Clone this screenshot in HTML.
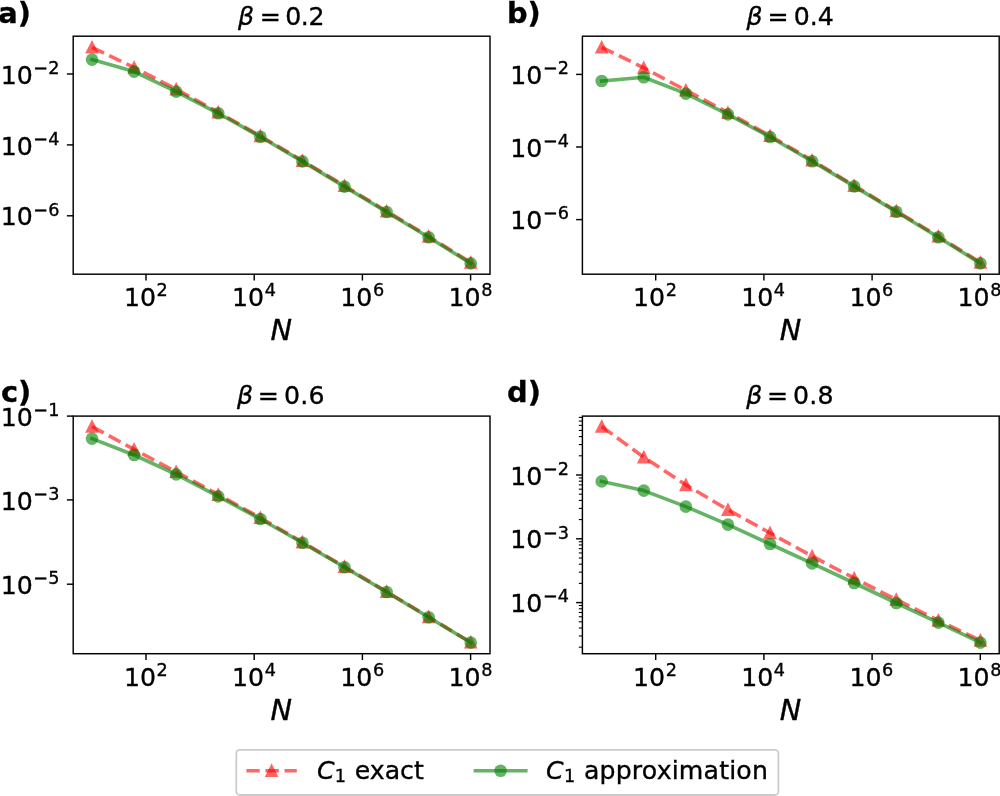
<!DOCTYPE html>
<html lang="en"><head><meta charset="utf-8"><title>C1 exact vs approximation</title>
<style>
html,body{margin:0;padding:0;background:#fff;}
body{width:1000px;height:796px;overflow:hidden;}
svg{display:block;font-family:"DejaVu Sans","Liberation Sans",sans-serif;fill:#000;}
text{stroke:#000;stroke-width:0.35px;}
</style></head><body>
<svg width="1000" height="796" viewBox="0 0 1000 796">
<rect width="1000" height="796" fill="#fff"/>
<g id="panel-a">
<clipPath id="clip-a"><rect x="73.2" y="36.2" width="416.8" height="238.0"/></clipPath>
<g clip-path="url(#clip-a)">
<path d="M92.00 47.30L134.08 67.50L176.16 89.20L218.24 112.20L260.32 136.00L302.40 160.70L344.48 185.80L386.56 211.20L428.64 236.40L470.72 262.50" fill="none" stroke="#ff0000" stroke-opacity="0.6" stroke-width="3.6" stroke-dasharray="13.32 5.76" stroke-linejoin="round"/>
<path d="M92.00 41.90L86.60 52.70L97.40 52.70Z" fill="#ff0000" stroke="#ff0000" stroke-width="1.8" stroke-linejoin="miter" opacity="0.6"/>
<path d="M134.08 62.10L128.68 72.90L139.48 72.90Z" fill="#ff0000" stroke="#ff0000" stroke-width="1.8" stroke-linejoin="miter" opacity="0.6"/>
<path d="M176.16 83.80L170.76 94.60L181.56 94.60Z" fill="#ff0000" stroke="#ff0000" stroke-width="1.8" stroke-linejoin="miter" opacity="0.6"/>
<path d="M218.24 106.80L212.84 117.60L223.64 117.60Z" fill="#ff0000" stroke="#ff0000" stroke-width="1.8" stroke-linejoin="miter" opacity="0.6"/>
<path d="M260.32 130.60L254.92 141.40L265.72 141.40Z" fill="#ff0000" stroke="#ff0000" stroke-width="1.8" stroke-linejoin="miter" opacity="0.6"/>
<path d="M302.40 155.30L297.00 166.10L307.80 166.10Z" fill="#ff0000" stroke="#ff0000" stroke-width="1.8" stroke-linejoin="miter" opacity="0.6"/>
<path d="M344.48 180.40L339.08 191.20L349.88 191.20Z" fill="#ff0000" stroke="#ff0000" stroke-width="1.8" stroke-linejoin="miter" opacity="0.6"/>
<path d="M386.56 205.80L381.16 216.60L391.96 216.60Z" fill="#ff0000" stroke="#ff0000" stroke-width="1.8" stroke-linejoin="miter" opacity="0.6"/>
<path d="M428.64 231.00L423.24 241.80L434.04 241.80Z" fill="#ff0000" stroke="#ff0000" stroke-width="1.8" stroke-linejoin="miter" opacity="0.6"/>
<path d="M470.72 257.10L465.32 267.90L476.12 267.90Z" fill="#ff0000" stroke="#ff0000" stroke-width="1.8" stroke-linejoin="miter" opacity="0.6"/>
<path d="M92.00 59.60L134.08 71.60L176.16 91.60L218.24 113.30L260.32 136.80L302.40 161.40L344.48 186.60L386.56 212.00L428.64 237.20L470.72 263.40" fill="none" stroke="#008000" stroke-opacity="0.6" stroke-width="3.6" stroke-linecap="square" stroke-linejoin="round"/>
<circle cx="92.00" cy="59.60" r="6.3" fill="#008000" opacity="0.6"/>
<circle cx="134.08" cy="71.60" r="6.3" fill="#008000" opacity="0.6"/>
<circle cx="176.16" cy="91.60" r="6.3" fill="#008000" opacity="0.6"/>
<circle cx="218.24" cy="113.30" r="6.3" fill="#008000" opacity="0.6"/>
<circle cx="260.32" cy="136.80" r="6.3" fill="#008000" opacity="0.6"/>
<circle cx="302.40" cy="161.40" r="6.3" fill="#008000" opacity="0.6"/>
<circle cx="344.48" cy="186.60" r="6.3" fill="#008000" opacity="0.6"/>
<circle cx="386.56" cy="212.00" r="6.3" fill="#008000" opacity="0.6"/>
<circle cx="428.64" cy="237.20" r="6.3" fill="#008000" opacity="0.6"/>
<circle cx="470.72" cy="263.40" r="6.3" fill="#008000" opacity="0.6"/>
</g>
<path d="M146.00 274.20v6.3" stroke="#000" stroke-width="1.44"/>
<text x="123.90" y="306.20" font-size="25.2" text-anchor="start">10<tspan dy="-9.83" dx="0.6" font-size="17.64">2</tspan></text>
<path d="M254.20 274.20v6.3" stroke="#000" stroke-width="1.44"/>
<text x="232.10" y="306.20" font-size="25.2" text-anchor="start">10<tspan dy="-9.83" dx="0.6" font-size="17.64">4</tspan></text>
<path d="M362.40 274.20v6.3" stroke="#000" stroke-width="1.44"/>
<text x="340.30" y="306.20" font-size="25.2" text-anchor="start">10<tspan dy="-9.83" dx="0.6" font-size="17.64">6</tspan></text>
<path d="M470.60 274.20v6.3" stroke="#000" stroke-width="1.44"/>
<text x="448.50" y="306.20" font-size="25.2" text-anchor="start">10<tspan dy="-9.83" dx="0.6" font-size="17.64">8</tspan></text>
<path d="M73.20 74.00h-6.3" stroke="#000" stroke-width="1.44"/>
<text x="0.70" y="83.60" font-size="25.2" text-anchor="start">10<tspan dy="-9.83" dx="0.6" font-size="17.64">−2</tspan></text>
<path d="M73.20 144.90h-6.3" stroke="#000" stroke-width="1.44"/>
<text x="0.70" y="154.50" font-size="25.2" text-anchor="start">10<tspan dy="-9.83" dx="0.6" font-size="17.64">−4</tspan></text>
<path d="M73.20 215.80h-6.3" stroke="#000" stroke-width="1.44"/>
<text x="0.70" y="225.40" font-size="25.2" text-anchor="start">10<tspan dy="-9.83" dx="0.6" font-size="17.64">−6</tspan></text>
<rect x="73.2" y="36.20" width="416.8" height="238.00" fill="none" stroke="#000" stroke-width="1.44"/>
<text x="238.10" y="25.20" font-size="25.2"><tspan font-style="italic">β</tspan><tspan dx="5.5">=</tspan><tspan dx="4.4" letter-spacing="-0.4">0.2</tspan></text>
<text x="281.20" y="340.40" font-size="28.8" font-style="italic" text-anchor="middle">N</text>
<text x="-1.70" y="22.90" font-size="28.8" font-weight="bold">a)</text>
</g>
<g id="panel-b">
<clipPath id="clip-b"><rect x="582.4" y="36.2" width="416.8" height="238.0"/></clipPath>
<g clip-path="url(#clip-b)">
<path d="M601.70 47.30L643.78 67.80L685.86 90.30L727.94 112.60L770.02 135.80L812.10 160.30L854.18 185.60L896.26 211.00L938.34 236.30L980.42 262.50" fill="none" stroke="#ff0000" stroke-opacity="0.6" stroke-width="3.6" stroke-dasharray="13.32 5.76" stroke-linejoin="round"/>
<path d="M601.70 41.90L596.30 52.70L607.10 52.70Z" fill="#ff0000" stroke="#ff0000" stroke-width="1.8" stroke-linejoin="miter" opacity="0.6"/>
<path d="M643.78 62.40L638.38 73.20L649.18 73.20Z" fill="#ff0000" stroke="#ff0000" stroke-width="1.8" stroke-linejoin="miter" opacity="0.6"/>
<path d="M685.86 84.90L680.46 95.70L691.26 95.70Z" fill="#ff0000" stroke="#ff0000" stroke-width="1.8" stroke-linejoin="miter" opacity="0.6"/>
<path d="M727.94 107.20L722.54 118.00L733.34 118.00Z" fill="#ff0000" stroke="#ff0000" stroke-width="1.8" stroke-linejoin="miter" opacity="0.6"/>
<path d="M770.02 130.40L764.62 141.20L775.42 141.20Z" fill="#ff0000" stroke="#ff0000" stroke-width="1.8" stroke-linejoin="miter" opacity="0.6"/>
<path d="M812.10 154.90L806.70 165.70L817.50 165.70Z" fill="#ff0000" stroke="#ff0000" stroke-width="1.8" stroke-linejoin="miter" opacity="0.6"/>
<path d="M854.18 180.20L848.78 191.00L859.58 191.00Z" fill="#ff0000" stroke="#ff0000" stroke-width="1.8" stroke-linejoin="miter" opacity="0.6"/>
<path d="M896.26 205.60L890.86 216.40L901.66 216.40Z" fill="#ff0000" stroke="#ff0000" stroke-width="1.8" stroke-linejoin="miter" opacity="0.6"/>
<path d="M938.34 230.90L932.94 241.70L943.74 241.70Z" fill="#ff0000" stroke="#ff0000" stroke-width="1.8" stroke-linejoin="miter" opacity="0.6"/>
<path d="M980.42 257.10L975.02 267.90L985.82 267.90Z" fill="#ff0000" stroke="#ff0000" stroke-width="1.8" stroke-linejoin="miter" opacity="0.6"/>
<path d="M601.70 81.00L643.78 77.30L685.86 93.60L727.94 114.40L770.02 137.00L812.10 161.20L854.18 186.40L896.26 211.80L938.34 237.20L980.42 263.40" fill="none" stroke="#008000" stroke-opacity="0.6" stroke-width="3.6" stroke-linecap="square" stroke-linejoin="round"/>
<circle cx="601.70" cy="81.00" r="6.3" fill="#008000" opacity="0.6"/>
<circle cx="643.78" cy="77.30" r="6.3" fill="#008000" opacity="0.6"/>
<circle cx="685.86" cy="93.60" r="6.3" fill="#008000" opacity="0.6"/>
<circle cx="727.94" cy="114.40" r="6.3" fill="#008000" opacity="0.6"/>
<circle cx="770.02" cy="137.00" r="6.3" fill="#008000" opacity="0.6"/>
<circle cx="812.10" cy="161.20" r="6.3" fill="#008000" opacity="0.6"/>
<circle cx="854.18" cy="186.40" r="6.3" fill="#008000" opacity="0.6"/>
<circle cx="896.26" cy="211.80" r="6.3" fill="#008000" opacity="0.6"/>
<circle cx="938.34" cy="237.20" r="6.3" fill="#008000" opacity="0.6"/>
<circle cx="980.42" cy="263.40" r="6.3" fill="#008000" opacity="0.6"/>
</g>
<path d="M655.70 274.20v6.3" stroke="#000" stroke-width="1.44"/>
<text x="633.00" y="306.20" font-size="25.2" text-anchor="start">10<tspan dy="-9.83" dx="0.6" font-size="17.64">2</tspan></text>
<path d="M763.90 274.20v6.3" stroke="#000" stroke-width="1.44"/>
<text x="741.20" y="306.20" font-size="25.2" text-anchor="start">10<tspan dy="-9.83" dx="0.6" font-size="17.64">4</tspan></text>
<path d="M872.10 274.20v6.3" stroke="#000" stroke-width="1.44"/>
<text x="849.40" y="306.20" font-size="25.2" text-anchor="start">10<tspan dy="-9.83" dx="0.6" font-size="17.64">6</tspan></text>
<path d="M980.30 274.20v6.3" stroke="#000" stroke-width="1.44"/>
<text x="957.60" y="306.20" font-size="25.2" text-anchor="start">10<tspan dy="-9.83" dx="0.6" font-size="17.64">8</tspan></text>
<path d="M582.40 74.40h-6.3" stroke="#000" stroke-width="1.44"/>
<text x="510.30" y="84.00" font-size="25.2" text-anchor="start">10<tspan dy="-9.83" dx="0.6" font-size="17.64">−2</tspan></text>
<path d="M582.40 147.00h-6.3" stroke="#000" stroke-width="1.44"/>
<text x="510.30" y="156.60" font-size="25.2" text-anchor="start">10<tspan dy="-9.83" dx="0.6" font-size="17.64">−4</tspan></text>
<path d="M582.40 219.60h-6.3" stroke="#000" stroke-width="1.44"/>
<text x="510.30" y="229.20" font-size="25.2" text-anchor="start">10<tspan dy="-9.83" dx="0.6" font-size="17.64">−6</tspan></text>
<rect x="582.4" y="36.20" width="416.8" height="238.00" fill="none" stroke="#000" stroke-width="1.44"/>
<text x="746.50" y="24.90" font-size="25.2"><tspan font-style="italic">β</tspan><tspan dx="4.9">=</tspan><tspan dx="5.1" letter-spacing="0">0.4</tspan></text>
<text x="790.40" y="340.40" font-size="28.8" font-style="italic" text-anchor="middle">N</text>
<text x="507.00" y="22.90" font-size="28.8" font-weight="bold">b)</text>
</g>
<g id="panel-c">
<clipPath id="clip-c"><rect x="73.2" y="415.7" width="416.8" height="238.0"/></clipPath>
<g clip-path="url(#clip-c)">
<path d="M92.00 426.50L134.08 449.40L176.16 471.80L218.24 494.60L260.32 517.80L302.40 542.10L344.48 566.70L386.56 591.70L428.64 616.90L470.72 642.30" fill="none" stroke="#ff0000" stroke-opacity="0.6" stroke-width="3.6" stroke-dasharray="13.32 5.76" stroke-linejoin="round"/>
<path d="M92.00 421.10L86.60 431.90L97.40 431.90Z" fill="#ff0000" stroke="#ff0000" stroke-width="1.8" stroke-linejoin="miter" opacity="0.6"/>
<path d="M134.08 444.00L128.68 454.80L139.48 454.80Z" fill="#ff0000" stroke="#ff0000" stroke-width="1.8" stroke-linejoin="miter" opacity="0.6"/>
<path d="M176.16 466.40L170.76 477.20L181.56 477.20Z" fill="#ff0000" stroke="#ff0000" stroke-width="1.8" stroke-linejoin="miter" opacity="0.6"/>
<path d="M218.24 489.20L212.84 500.00L223.64 500.00Z" fill="#ff0000" stroke="#ff0000" stroke-width="1.8" stroke-linejoin="miter" opacity="0.6"/>
<path d="M260.32 512.40L254.92 523.20L265.72 523.20Z" fill="#ff0000" stroke="#ff0000" stroke-width="1.8" stroke-linejoin="miter" opacity="0.6"/>
<path d="M302.40 536.70L297.00 547.50L307.80 547.50Z" fill="#ff0000" stroke="#ff0000" stroke-width="1.8" stroke-linejoin="miter" opacity="0.6"/>
<path d="M344.48 561.30L339.08 572.10L349.88 572.10Z" fill="#ff0000" stroke="#ff0000" stroke-width="1.8" stroke-linejoin="miter" opacity="0.6"/>
<path d="M386.56 586.30L381.16 597.10L391.96 597.10Z" fill="#ff0000" stroke="#ff0000" stroke-width="1.8" stroke-linejoin="miter" opacity="0.6"/>
<path d="M428.64 611.50L423.24 622.30L434.04 622.30Z" fill="#ff0000" stroke="#ff0000" stroke-width="1.8" stroke-linejoin="miter" opacity="0.6"/>
<path d="M470.72 636.90L465.32 647.70L476.12 647.70Z" fill="#ff0000" stroke="#ff0000" stroke-width="1.8" stroke-linejoin="miter" opacity="0.6"/>
<path d="M92.00 438.60L134.08 455.00L176.16 474.40L218.24 496.40L260.32 519.00L302.40 542.80L344.48 567.20L386.56 592.00L428.64 617.20L470.72 642.60" fill="none" stroke="#008000" stroke-opacity="0.6" stroke-width="3.6" stroke-linecap="square" stroke-linejoin="round"/>
<circle cx="92.00" cy="438.60" r="6.3" fill="#008000" opacity="0.6"/>
<circle cx="134.08" cy="455.00" r="6.3" fill="#008000" opacity="0.6"/>
<circle cx="176.16" cy="474.40" r="6.3" fill="#008000" opacity="0.6"/>
<circle cx="218.24" cy="496.40" r="6.3" fill="#008000" opacity="0.6"/>
<circle cx="260.32" cy="519.00" r="6.3" fill="#008000" opacity="0.6"/>
<circle cx="302.40" cy="542.80" r="6.3" fill="#008000" opacity="0.6"/>
<circle cx="344.48" cy="567.20" r="6.3" fill="#008000" opacity="0.6"/>
<circle cx="386.56" cy="592.00" r="6.3" fill="#008000" opacity="0.6"/>
<circle cx="428.64" cy="617.20" r="6.3" fill="#008000" opacity="0.6"/>
<circle cx="470.72" cy="642.60" r="6.3" fill="#008000" opacity="0.6"/>
</g>
<path d="M146.00 653.70v6.3" stroke="#000" stroke-width="1.44"/>
<text x="123.90" y="685.70" font-size="25.2" text-anchor="start">10<tspan dy="-9.83" dx="0.6" font-size="17.64">2</tspan></text>
<path d="M254.20 653.70v6.3" stroke="#000" stroke-width="1.44"/>
<text x="232.10" y="685.70" font-size="25.2" text-anchor="start">10<tspan dy="-9.83" dx="0.6" font-size="17.64">4</tspan></text>
<path d="M362.40 653.70v6.3" stroke="#000" stroke-width="1.44"/>
<text x="340.30" y="685.70" font-size="25.2" text-anchor="start">10<tspan dy="-9.83" dx="0.6" font-size="17.64">6</tspan></text>
<path d="M470.60 653.70v6.3" stroke="#000" stroke-width="1.44"/>
<text x="448.50" y="685.70" font-size="25.2" text-anchor="start">10<tspan dy="-9.83" dx="0.6" font-size="17.64">8</tspan></text>
<path d="M73.20 416.10h-6.3" stroke="#000" stroke-width="1.44"/>
<text x="0.70" y="425.70" font-size="25.2" text-anchor="start">10<tspan dy="-9.83" dx="0.6" font-size="17.64">−1</tspan></text>
<path d="M73.20 499.90h-6.3" stroke="#000" stroke-width="1.44"/>
<text x="0.70" y="509.50" font-size="25.2" text-anchor="start">10<tspan dy="-9.83" dx="0.6" font-size="17.64">−3</tspan></text>
<path d="M73.20 584.20h-6.3" stroke="#000" stroke-width="1.44"/>
<text x="0.70" y="593.80" font-size="25.2" text-anchor="start">10<tspan dy="-9.83" dx="0.6" font-size="17.64">−5</tspan></text>
<rect x="73.2" y="416.10" width="416.8" height="237.60" fill="none" stroke="#000" stroke-width="1.44"/>
<text x="237.10" y="404.00" font-size="25.2"><tspan font-style="italic">β</tspan><tspan dx="4.5">=</tspan><tspan dx="5.3" letter-spacing="0.15">0.6</tspan></text>
<text x="281.20" y="719.90" font-size="28.8" font-style="italic" text-anchor="middle">N</text>
<text x="0.90" y="402.40" font-size="28.8" font-weight="bold">c)</text>
</g>
<g id="panel-d">
<clipPath id="clip-d"><rect x="582.4" y="415.7" width="416.8" height="238.0"/></clipPath>
<g clip-path="url(#clip-d)">
<path d="M601.70 426.50L643.78 457.20L685.86 484.90L727.94 509.70L770.02 533.00L812.10 556.20L854.18 578.20L896.26 599.60L938.34 620.40L980.42 640.40" fill="none" stroke="#ff0000" stroke-opacity="0.6" stroke-width="3.6" stroke-dasharray="13.32 5.76" stroke-linejoin="round"/>
<path d="M601.70 421.10L596.30 431.90L607.10 431.90Z" fill="#ff0000" stroke="#ff0000" stroke-width="1.8" stroke-linejoin="miter" opacity="0.6"/>
<path d="M643.78 451.80L638.38 462.60L649.18 462.60Z" fill="#ff0000" stroke="#ff0000" stroke-width="1.8" stroke-linejoin="miter" opacity="0.6"/>
<path d="M685.86 479.50L680.46 490.30L691.26 490.30Z" fill="#ff0000" stroke="#ff0000" stroke-width="1.8" stroke-linejoin="miter" opacity="0.6"/>
<path d="M727.94 504.30L722.54 515.10L733.34 515.10Z" fill="#ff0000" stroke="#ff0000" stroke-width="1.8" stroke-linejoin="miter" opacity="0.6"/>
<path d="M770.02 527.60L764.62 538.40L775.42 538.40Z" fill="#ff0000" stroke="#ff0000" stroke-width="1.8" stroke-linejoin="miter" opacity="0.6"/>
<path d="M812.10 550.80L806.70 561.60L817.50 561.60Z" fill="#ff0000" stroke="#ff0000" stroke-width="1.8" stroke-linejoin="miter" opacity="0.6"/>
<path d="M854.18 572.80L848.78 583.60L859.58 583.60Z" fill="#ff0000" stroke="#ff0000" stroke-width="1.8" stroke-linejoin="miter" opacity="0.6"/>
<path d="M896.26 594.20L890.86 605.00L901.66 605.00Z" fill="#ff0000" stroke="#ff0000" stroke-width="1.8" stroke-linejoin="miter" opacity="0.6"/>
<path d="M938.34 615.00L932.94 625.80L943.74 625.80Z" fill="#ff0000" stroke="#ff0000" stroke-width="1.8" stroke-linejoin="miter" opacity="0.6"/>
<path d="M980.42 635.00L975.02 645.80L985.82 645.80Z" fill="#ff0000" stroke="#ff0000" stroke-width="1.8" stroke-linejoin="miter" opacity="0.6"/>
<path d="M601.70 481.40L643.78 490.60L685.86 506.60L727.94 524.60L770.02 544.00L812.10 563.40L854.18 583.00L896.26 603.00L938.34 622.60L980.42 642.60" fill="none" stroke="#008000" stroke-opacity="0.6" stroke-width="3.6" stroke-linecap="square" stroke-linejoin="round"/>
<circle cx="601.70" cy="481.40" r="6.3" fill="#008000" opacity="0.6"/>
<circle cx="643.78" cy="490.60" r="6.3" fill="#008000" opacity="0.6"/>
<circle cx="685.86" cy="506.60" r="6.3" fill="#008000" opacity="0.6"/>
<circle cx="727.94" cy="524.60" r="6.3" fill="#008000" opacity="0.6"/>
<circle cx="770.02" cy="544.00" r="6.3" fill="#008000" opacity="0.6"/>
<circle cx="812.10" cy="563.40" r="6.3" fill="#008000" opacity="0.6"/>
<circle cx="854.18" cy="583.00" r="6.3" fill="#008000" opacity="0.6"/>
<circle cx="896.26" cy="603.00" r="6.3" fill="#008000" opacity="0.6"/>
<circle cx="938.34" cy="622.60" r="6.3" fill="#008000" opacity="0.6"/>
<circle cx="980.42" cy="642.60" r="6.3" fill="#008000" opacity="0.6"/>
</g>
<path d="M655.70 653.70v6.3" stroke="#000" stroke-width="1.44"/>
<text x="633.00" y="685.70" font-size="25.2" text-anchor="start">10<tspan dy="-9.83" dx="0.6" font-size="17.64">2</tspan></text>
<path d="M763.90 653.70v6.3" stroke="#000" stroke-width="1.44"/>
<text x="741.20" y="685.70" font-size="25.2" text-anchor="start">10<tspan dy="-9.83" dx="0.6" font-size="17.64">4</tspan></text>
<path d="M872.10 653.70v6.3" stroke="#000" stroke-width="1.44"/>
<text x="849.40" y="685.70" font-size="25.2" text-anchor="start">10<tspan dy="-9.83" dx="0.6" font-size="17.64">6</tspan></text>
<path d="M980.30 653.70v6.3" stroke="#000" stroke-width="1.44"/>
<text x="957.60" y="685.70" font-size="25.2" text-anchor="start">10<tspan dy="-9.83" dx="0.6" font-size="17.64">8</tspan></text>
<path d="M582.40 475.00h-6.3" stroke="#000" stroke-width="1.44"/>
<text x="510.30" y="484.60" font-size="25.2" text-anchor="start">10<tspan dy="-9.83" dx="0.6" font-size="17.64">−2</tspan></text>
<path d="M582.40 538.80h-6.3" stroke="#000" stroke-width="1.44"/>
<text x="510.30" y="548.40" font-size="25.2" text-anchor="start">10<tspan dy="-9.83" dx="0.6" font-size="17.64">−3</tspan></text>
<path d="M582.40 602.60h-6.3" stroke="#000" stroke-width="1.44"/>
<text x="510.30" y="612.20" font-size="25.2" text-anchor="start">10<tspan dy="-9.83" dx="0.6" font-size="17.64">−4</tspan></text>
<path d="M582.40 455.79h-3.6" stroke="#000" stroke-width="1.08"/>
<path d="M582.40 444.56h-3.6" stroke="#000" stroke-width="1.08"/>
<path d="M582.40 436.59h-3.6" stroke="#000" stroke-width="1.08"/>
<path d="M582.40 430.41h-3.6" stroke="#000" stroke-width="1.08"/>
<path d="M582.40 425.35h-3.6" stroke="#000" stroke-width="1.08"/>
<path d="M582.40 421.08h-3.6" stroke="#000" stroke-width="1.08"/>
<path d="M582.40 417.38h-3.6" stroke="#000" stroke-width="1.08"/>
<path d="M582.40 519.59h-3.6" stroke="#000" stroke-width="1.08"/>
<path d="M582.40 508.36h-3.6" stroke="#000" stroke-width="1.08"/>
<path d="M582.40 500.39h-3.6" stroke="#000" stroke-width="1.08"/>
<path d="M582.40 494.21h-3.6" stroke="#000" stroke-width="1.08"/>
<path d="M582.40 489.15h-3.6" stroke="#000" stroke-width="1.08"/>
<path d="M582.40 484.88h-3.6" stroke="#000" stroke-width="1.08"/>
<path d="M582.40 481.18h-3.6" stroke="#000" stroke-width="1.08"/>
<path d="M582.40 477.92h-3.6" stroke="#000" stroke-width="1.08"/>
<path d="M582.40 583.39h-3.6" stroke="#000" stroke-width="1.08"/>
<path d="M582.40 572.16h-3.6" stroke="#000" stroke-width="1.08"/>
<path d="M582.40 564.19h-3.6" stroke="#000" stroke-width="1.08"/>
<path d="M582.40 558.01h-3.6" stroke="#000" stroke-width="1.08"/>
<path d="M582.40 552.95h-3.6" stroke="#000" stroke-width="1.08"/>
<path d="M582.40 548.68h-3.6" stroke="#000" stroke-width="1.08"/>
<path d="M582.40 544.98h-3.6" stroke="#000" stroke-width="1.08"/>
<path d="M582.40 541.72h-3.6" stroke="#000" stroke-width="1.08"/>
<path d="M582.40 647.19h-3.6" stroke="#000" stroke-width="1.08"/>
<path d="M582.40 635.96h-3.6" stroke="#000" stroke-width="1.08"/>
<path d="M582.40 627.99h-3.6" stroke="#000" stroke-width="1.08"/>
<path d="M582.40 621.81h-3.6" stroke="#000" stroke-width="1.08"/>
<path d="M582.40 616.75h-3.6" stroke="#000" stroke-width="1.08"/>
<path d="M582.40 612.48h-3.6" stroke="#000" stroke-width="1.08"/>
<path d="M582.40 608.78h-3.6" stroke="#000" stroke-width="1.08"/>
<path d="M582.40 605.52h-3.6" stroke="#000" stroke-width="1.08"/>
<rect x="582.4" y="416.10" width="416.8" height="237.60" fill="none" stroke="#000" stroke-width="1.44"/>
<text x="746.20" y="404.00" font-size="25.2"><tspan font-style="italic">β</tspan><tspan dx="4.7">=</tspan><tspan dx="5.0" letter-spacing="0.25">0.8</tspan></text>
<text x="790.40" y="719.90" font-size="28.8" font-style="italic" text-anchor="middle">N</text>
<text x="507.10" y="402.40" font-size="28.8" font-weight="bold">d)</text>
</g>
<g id="legend">
<rect x="236.3" y="749.8" width="542.1" height="45.2" rx="3.6" ry="3.6" fill="#fff" fill-opacity="0.8" stroke="#cccccc" stroke-width="1.8"/>
<path d="M246.4 770.7H296.8" fill="none" stroke="#ff0000" stroke-opacity="0.6" stroke-width="3.6" stroke-dasharray="13.32 5.76"/>
<path d="M271.60 765.30L266.20 776.10L277.00 776.10Z" fill="#ff0000" stroke="#ff0000" stroke-width="1.8" opacity="0.6"/>
<text x="316.9" y="778.6" font-size="25.2"><tspan font-style="italic">C</tspan><tspan dy="3.6" dx="0.3" font-size="17.64">1</tspan><tspan dy="-3.6" dx="0.7"> exact</tspan></text>
<path d="M475.4 770.7H525.8" fill="none" stroke="#008000" stroke-opacity="0.6" stroke-width="3.6" stroke-linecap="square"/>
<circle cx="500.6" cy="770.7" r="6.3" fill="#008000" opacity="0.6"/>
<text x="546.0" y="778.6" font-size="25.2"><tspan font-style="italic">C</tspan><tspan dy="3.6" dx="0.3" font-size="17.64">1</tspan><tspan dy="-3.6" dx="0.7" letter-spacing="0.16"> approximation</tspan></text>
</g>
</svg>
</body></html>
